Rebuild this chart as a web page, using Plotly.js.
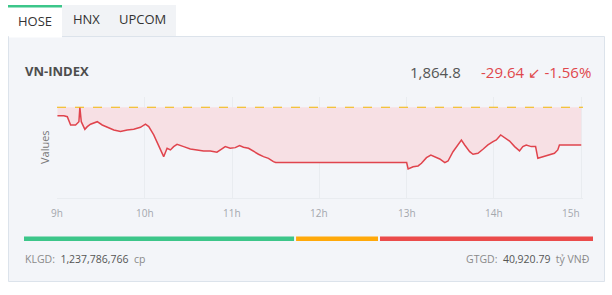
<!DOCTYPE html>
<html>
<head>
<meta charset="utf-8">
<script src="https://cdn.plot.ly/plotly-3.0.1.min.js"></script>
<style>
html,body{margin:0;padding:0;background:#fff;}
#chart{width:612px;height:295px;}
</style>
</head>
<body>
<div id="chart"></div>
<script>
// ---- data ----
const tabs = ["HOSE", "HNX", "UPCOM"];
const indexName = "VN-INDEX";
const lastValue = 1864.8;
const change = -29.64;
const changePct = -1.56;
const prevClose = 1894.44;
const volume = "1,237,786,766";
const turnover = "40,920.79";
const hourTicks = [9, 10, 11, 12, 13, 14, 15];
const hourLabels = ["9h", "10h", "11h", "12h", "13h", "14h", "15h"];
const breadth = [0.478, 0.145, 0.377]; // advancers / unchanged / decliners share of bar

const times = [
  9.00, 9.074, 9.113, 9.151, 9.208, 9.246, 9.257, 9.273, 9.314, 9.342,
  9.379, 9.417, 9.456, 9.513, 9.570, 9.646, 9.722, 9.799, 9.874, 9.951,
  10.008, 10.046, 10.103, 10.160, 10.199, 10.217, 10.256, 10.294, 10.331, 10.370,
  10.446, 10.522, 10.599, 10.674, 10.751, 10.827, 10.884, 10.922, 10.979, 11.037,
  11.086, 11.131, 11.189, 11.246, 11.303, 11.360, 11.417, 11.474, 11.50, 13.00,
  13.017, 13.074, 13.131, 13.170, 13.227, 13.277, 13.322, 13.379, 13.437, 13.474,
  13.531, 13.589, 13.627, 13.665, 13.722, 13.760, 13.817, 13.874, 13.931, 13.989,
  14.027, 14.077, 14.122, 14.179, 14.237, 14.293, 14.331, 14.370, 14.427, 14.477,
  14.503, 14.560, 14.617, 14.693, 14.731, 14.750, 15.00
];
const values = [
  1887.8, 1887.8, 1887.0, 1880.5, 1880.5, 1883.1, 1894.4, 1883.1, 1877.1, 1879.2,
  1881.1, 1881.9, 1883.1, 1880.5, 1878.7, 1876.6, 1875.3, 1876.6, 1877.1, 1878.7,
  1881.1, 1879.2, 1872.7, 1863.5, 1858.3, 1855.6, 1862.2, 1860.9, 1863.5, 1865.3,
  1863.5, 1861.7, 1860.9, 1860.1, 1860.1, 1859.1, 1861.7, 1863.5, 1862.2, 1862.7,
  1864.3, 1863.0, 1862.2, 1859.5, 1857.5, 1855.6, 1854.3, 1851.7, 1851.0, 1851.0,
  1845.9, 1847.7, 1848.3, 1850.4, 1854.8, 1856.9, 1855.4, 1853.8, 1850.9, 1852.2,
  1859.5, 1865.3, 1868.7, 1864.8, 1859.5, 1857.5, 1858.3, 1861.4, 1864.8, 1867.4,
  1868.7, 1872.7, 1870.5, 1867.9, 1863.5, 1860.1, 1863.5, 1864.8, 1863.5, 1863.5,
  1854.3, 1855.6, 1856.9, 1858.3, 1860.9, 1864.8, 1864.8
];

// ---- layout helpers (pixel -> paper) ----
const W = 612, H = 295;
const PL = 57, PR = 583, PT = 97, PB = 198;
const fx = x => (x - PL) / (PR - PL);
const fy = y => (PB - y) / (PB - PT);
const FONT = "Open Sans, Noto Sans, DejaVu Sans, sans-serif";

function rect(x0, y0, x1, y1, fill, line) {
  return {type: "rect", xref: "paper", yref: "paper", layer: "below",
    x0: fx(x0), x1: fx(x1), y0: fy(y0), y1: fy(y1),
    fillcolor: fill, line: line || {width: 0}};
}
function txt(x, y, text, opts) {
  return Object.assign({xref: "paper", yref: "paper", x: fx(x), y: fy(y), text: text,
    showarrow: false, xanchor: "left", yanchor: "middle",
    font: {family: FONT, size: 12, color: "#555"}}, opts || {});
}

const shapes = [
  rect(62, 5, 176, 37, "#f1f3f6"),
  rect(8.5, 36.5, 604.5, 281.5, "#f3f5f9", {color: "#dce3eb", width: 1}),
  rect(9, 5, 62, 37.5, "#ffffff"),
  rect(8, 5, 62, 7.5, "#3cc68a"),
  {type: "line", xref: "paper", yref: "y", x0: 0, x1: 1, y0: prevClose, y1: prevClose,
   line: {color: "#f2b705", width: 1, dash: "dash"}}
];
// breadth bar
const barL = 24, barR = 593, gap = 2;
let cx = barL;
const barColors = ["#3cc68a", "#ffa90a", "#eb4b4b"];
const barTotalW = barR - barL - gap * (breadth.length - 1);
breadth.forEach((b, i) => {
  const w = b * barTotalW;
  shapes.push(rect(cx, 236.5, cx + w, 241, barColors[i]));
  cx += w + gap;
});

const annotations = [
  txt(35, 21, tabs[0], {xanchor: "center", font: {family: FONT, size: 13, color: "#333"}}),
  txt(86, 19, tabs[1], {xanchor: "center", font: {family: FONT, size: 13, color: "#333"}}),
  txt(142, 19, tabs[2], {xanchor: "center", font: {family: FONT, size: 13, color: "#333"}}),
  txt(23, 71, "<b>" + indexName + "</b>", {font: {family: FONT, size: 13, color: "#4d4d4d"}}),
  txt(463, 72, lastValue.toLocaleString("en-US", {minimumFractionDigits: 1}), {xanchor: "right", font: {family: FONT, size: 15, color: "#555"}}),
  txt(593, 72, change.toFixed(2) + " ↙ " + changePct.toFixed(2) + "%", {xanchor: "right", font: {family: FONT, size: 15, color: "#e0474c"}}),
  txt(44, 147, "Values", {xanchor: "center", textangle: -90, font: {family: FONT, size: 11, color: "#777"}}),
  txt(23, 259, "KLGD:  <span style='color:#555'>" + volume + "</span>  cp", {font: {family: FONT, size: 10.5, color: "#8a8a8a"}}),
  txt(591, 259, "GTGD:  <span style='color:#555'>" + turnover + "</span>  tỷ VNĐ", {xanchor: "right", font: {family: FONT, size: 10.5, color: "#8a8a8a"}})
];
hourTicks.forEach((h, i) => {
  const last = i === hourTicks.length - 1;
  annotations.push({xref: "x", yref: "paper", x: h, y: fy(213), text: hourLabels[i],
    showarrow: false, xanchor: last ? "right" : "center", xshift: last ? 1 : 0, yanchor: "middle",
    font: {family: FONT, size: 10, color: "#a3a7ad"}});
});

const traces = [
  {x: [times[0], times[times.length - 1]], y: [prevClose, prevClose], mode: "lines",
   line: {width: 0, color: "rgba(0,0,0,0)"}, hoverinfo: "skip", showlegend: false},
  {x: times, y: values, mode: "lines", fill: "tonexty", fillcolor: "#f7e0e4",
   line: {color: "#e0444d", width: 1.5}, showlegend: false}
];

const layout = {
  width: W, height: H,
  margin: {l: PL, r: W - PR, t: PT, b: H - PB, pad: 0},
  paper_bgcolor: "#ffffff", plot_bgcolor: "#f8f9fb",
  showlegend: false,
  xaxis: {range: [8.995, 15.02], tickvals: hourTicks, showticklabels: false, ticks: "",
    showgrid: true, gridcolor: "#e9ecf0", gridwidth: 1, zeroline: false,
    showline: true, linecolor: "#e9ecf0", linewidth: 1, fixedrange: true},
  yaxis: {range: [1823.1, 1902.5], showticklabels: false, ticks: "", showgrid: false,
    zeroline: false, showline: false, fixedrange: true},
  shapes: shapes,
  annotations: annotations
};

Plotly.newPlot("chart", traces, layout, {displayModeBar: false, staticPlot: true});
</script>
</body>
</html>
